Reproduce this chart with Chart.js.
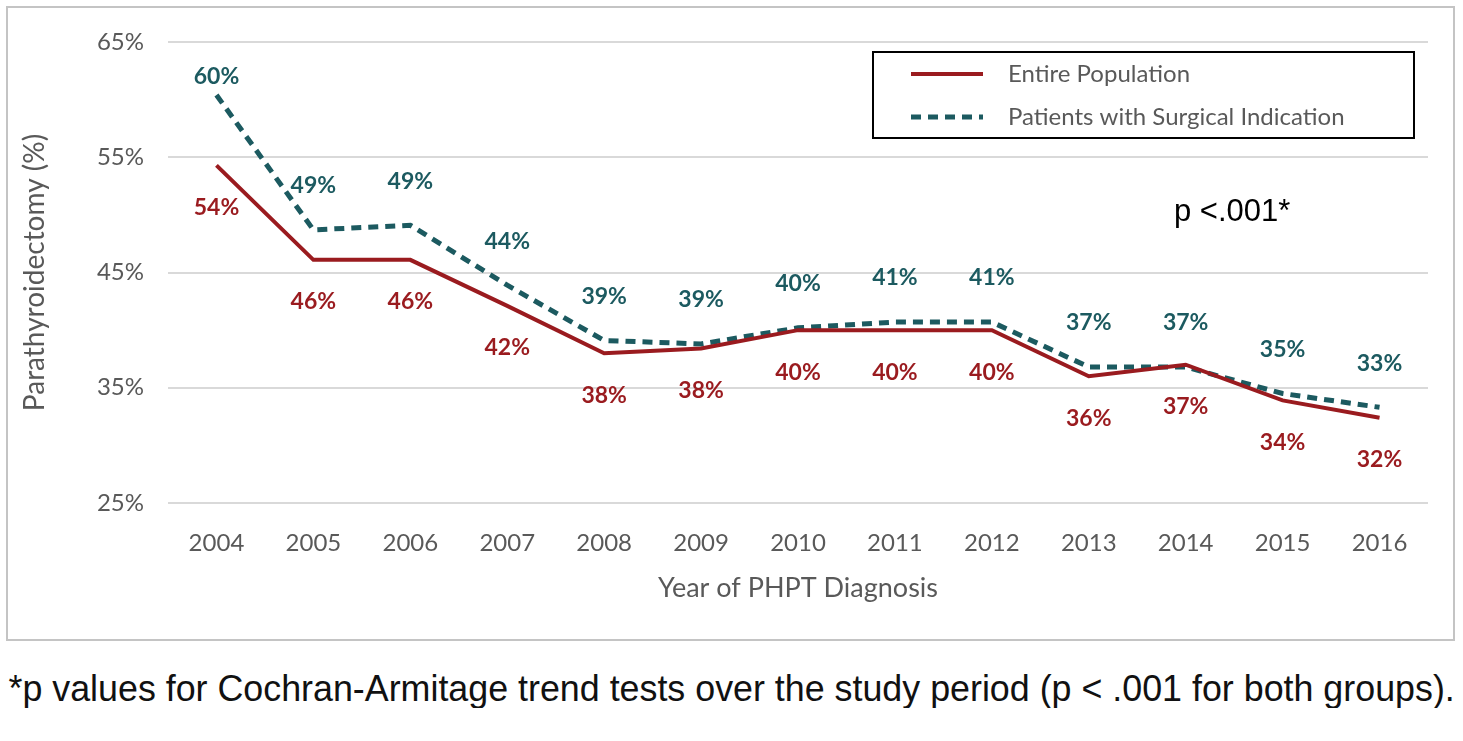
<!DOCTYPE html>
<html>
<head>
<meta charset="utf-8">
<script src="https://cdn.jsdelivr.net/npm/chart.js@4"></script>
<style>
  body { margin: 0; background: #fff; width: 1463px; height: 741px; overflow: hidden; }
  #cadre { position: absolute; left: 6px; top: 6px; width: 1445px; height: 631px; border: 2px solid #c4c4c4; }
  #note { position: absolute; left: 0; top: 670px; width: 1463px; text-align: center; white-space: nowrap;
          font-family: "Liberation Sans", Arial, sans-serif; font-size: 29px; line-height: 36px; color: #111;
          transform: scale(1.235, 1.25); transform-origin: 731px 18px; }
</style>
</head>
<body>
<div id="cadre"><canvas id="graphe" width="1445" height="631"></canvas></div>
<div id="note">*p values for Cochran-Armitage trend tests over the study period (p &lt; .001 for both groups).</div>
<script>
  // Données
  const annees = ["2004", "2005", "2006", "2007", "2008", "2009", "2010", "2011", "2012", "2013", "2014", "2015", "2016"];
  const populationTotale = [54.3, 46.1, 46.1, 42.1, 38.0, 38.4, 40.0, 40.0, 40.0, 36.0, 37.0, 33.9, 32.4];
  const indicationChir = [60.4, 48.7, 49.1, 43.9, 39.1, 38.8, 40.2, 40.7, 40.7, 36.8, 36.8, 34.5, 33.3];
  const ticksY = [25, 35, 45, 55, 65];

  const ROUGE = "#9a1b1f";
  const SARCELLE = "#1c5a60";
  const POLICE = "Lato, 'Open Sans', sans-serif";

  /* ETIQUETTES DES POINTS */
  const etiquettes = {
    id: "etiquettes",
    afterDatasetsDraw(chart) {
      const ctx = chart.ctx;
      ctx.save();
      ctx.font = "bold 23px " + POLICE;
      ctx.textAlign = "center";
      ctx.textBaseline = "middle";
      chart.data.datasets.forEach((ds, i) => {
        const meta = chart.getDatasetMeta(i);
        ctx.fillStyle = ds.borderColor;
        meta.data.forEach((pt, j) => {
          const txt = Math.round(ds.data[j]) + "%";
          let dy = i === 0 ? 42 : -44;
          if (i === 1 && j === 0) dy = -18;
          ctx.fillText(txt, pt.x, pt.y + dy);
        });
      });
      ctx.restore();
    }
  };

  /* LEGENDE ENCADREE + TEXTE p */
  const legende = {
    id: "legende",
    afterDraw(chart) {
      const ctx = chart.ctx;
      ctx.save();
      ctx.strokeStyle = "#000";
      ctx.lineWidth = 2;
      ctx.strokeRect(865, 44, 541, 86);
      ctx.font = "24px " + POLICE;
      ctx.textBaseline = "middle";
      chart.data.datasets.forEach((ds, i) => {
        const y = 66 + i * 43;
        ctx.strokeStyle = ds.borderColor;
        ctx.lineWidth = ds.borderWidth;
        ctx.setLineDash(ds.borderDash || []);
        ctx.beginPath();
        ctx.moveTo(903, y);
        ctx.lineTo(975, y);
        ctx.stroke();
        ctx.setLineDash([]);
        ctx.fillStyle = "#595959";
        ctx.fillText(ds.label, 1000, y);
      });
      ctx.fillStyle = "#000";
      ctx.font = "31px 'Liberation Sans', Arial, sans-serif";
      ctx.fillText("p <.001*", 1166, 204);
      ctx.restore();
    }
  };

  const ctx = document.getElementById("graphe").getContext("2d");
  const graphe = new Chart(ctx, {
    type: "line",
    data: {
      labels: annees,
      datasets: [
        {
          label: "Entire Population",
          data: populationTotale,
          borderColor: ROUGE,
          borderWidth: 4,
          pointRadius: 0,
          tension: 0,
        },
        {
          label: "Patients with Surgical Indication",
          data: indicationChir,
          borderColor: SARCELLE,
          borderWidth: 5,
          borderDash: [10, 7],
          pointRadius: 0,
          tension: 0,
        },
      ],
    },
    options: {
      responsive: false,
      animation: false,
      layout: { padding: { top: 34, right: 25, left: 0, bottom: 0 } },
      plugins: { legend: { display: false }, tooltip: { enabled: false } },
      scales: {
        x: {
          offset: true,
          grid: { display: false },
          border: { display: false },
          ticks: { color: "#595959", font: { family: POLICE, size: 24 }, padding: 18 },
          title: { display: true, text: "Year of PHPT Diagnosis", color: "#595959",
                   font: { family: POLICE, size: 27 }, padding: { top: 0, bottom: 35 } },
          afterFit: (s) => { s.height = 136; s.paddingLeft = 0; s.paddingRight = 0; },
        },
        y: {
          min: 25,
          max: 65,
          afterBuildTicks: (s) => { s.ticks = ticksY.map((v) => ({ value: v })); },
          grid: { color: "#d9d9d9", lineWidth: 2, drawTicks: false },
          border: { display: false },
          ticks: { color: "#595959", font: { family: POLICE, size: 24 }, padding: 24,
                   callback: (v) => v + "%" },
          title: { display: true, text: "Parathyroidectomy (%)", color: "#595959",
                   font: { family: POLICE, size: 28 }, padding: { top: 10 } },
          afterFit: (s) => { s.width = 160; s.paddingTop = 0; s.paddingBottom = 0; },
        },
      },
    },
    plugins: [etiquettes, legende],
  });
</script>
</body>
</html>
